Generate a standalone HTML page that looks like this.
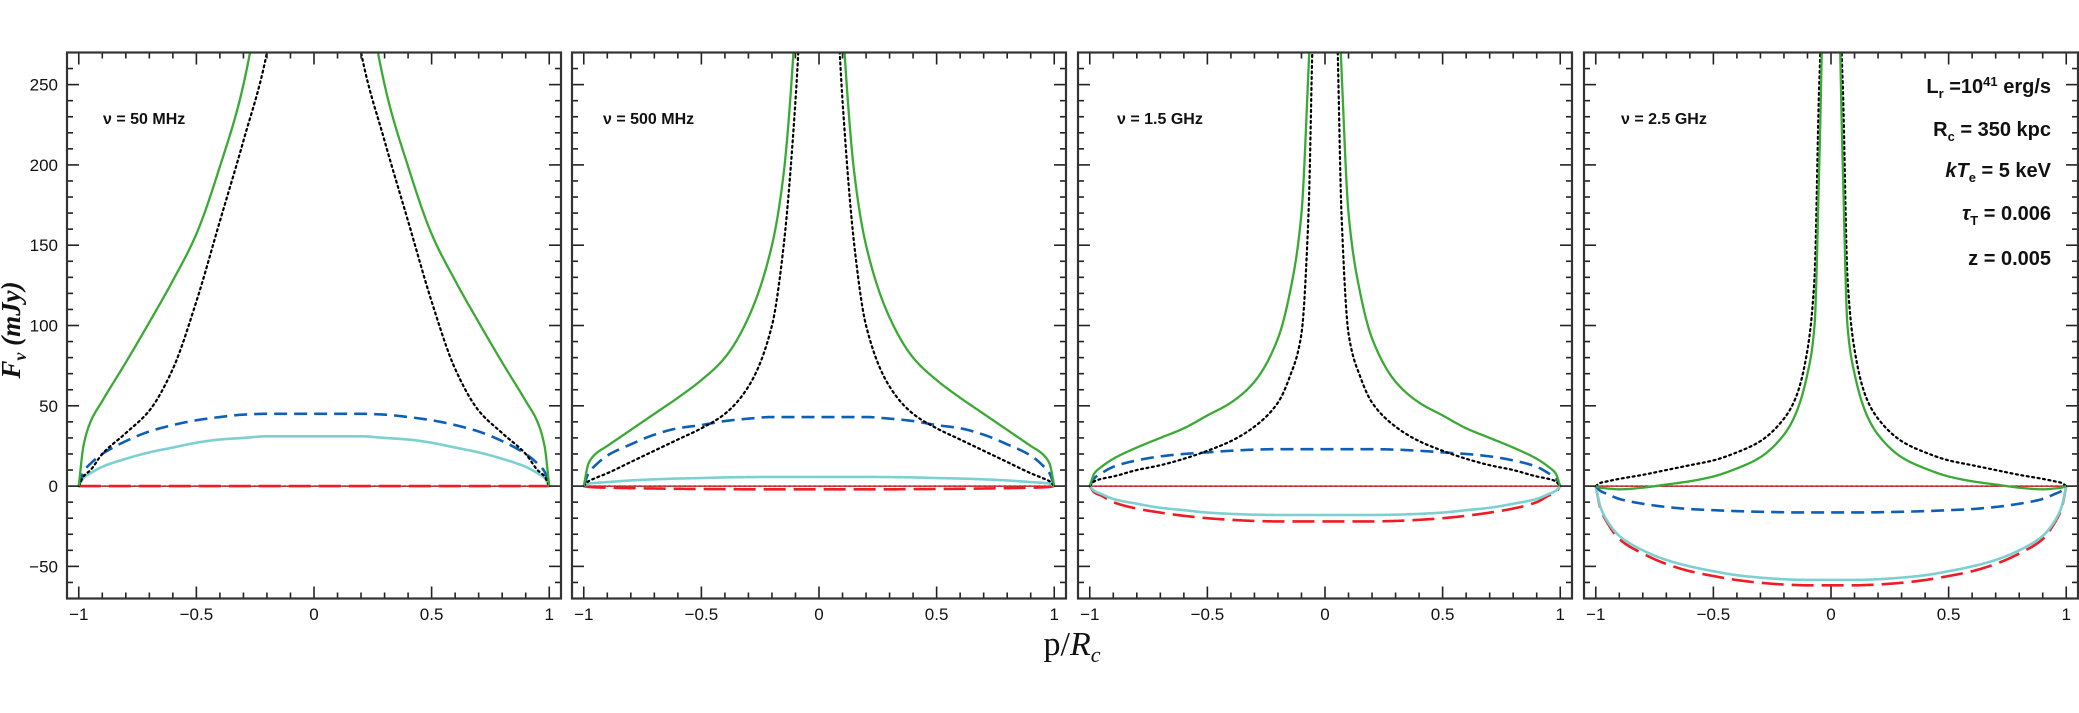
<!DOCTYPE html>
<html><head><meta charset="utf-8"><style>
html,body{margin:0;padding:0;background:#fff;}
svg{display:block;}
text{font-family:"Liberation Sans",sans-serif;fill:#111;}
</style></head><body>
<svg id="chart" width="2079" height="713" viewBox="0 0 2079 713" xmlns="http://www.w3.org/2000/svg">
<text x="20" y="330" transform="rotate(-90 20 330)" text-anchor="middle" font-size="27" font-weight="bold" font-style="italic" style="font-family:'Liberation Serif',serif">F<tspan font-size="18" dy="6">ν</tspan><tspan dy="-6"> (mJy)</tspan></text>
<text x="1072" y="655" text-anchor="middle" font-size="34" style="font-family:'Liberation Serif',serif">p/<tspan font-style="italic">R</tspan><tspan font-style="italic" font-size="22" dy="7">c</tspan></text>
<g id="panels"></g>
<g font-size="20" font-weight="bold" text-anchor="end">
<text x="2051" y="93">L<tspan font-size="13" dy="5">r</tspan><tspan dy="-5"> =10</tspan><tspan font-size="13" dy="-7">41</tspan><tspan dy="7"> erg/s</tspan></text>
<text x="2051" y="136">R<tspan font-size="13" dy="5">c</tspan><tspan dy="-5"> = 350  kpc</tspan></text>
<text x="2051" y="177"><tspan font-style="italic">kT</tspan><tspan font-size="13" dy="5">e</tspan><tspan dy="-5"> = 5 keV</tspan></text>
<text x="2051" y="220"><tspan font-style="italic">τ</tspan><tspan font-size="13" dy="5">T</tspan><tspan dy="-5"> = 0.006</tspan></text>
<text x="2051" y="265">z = 0.005</text>
</g>
</svg>
<script>
const xGrid = [-1,-0.98,-0.95,-0.9,-0.8,-0.7,-0.6,-0.5,-0.4,-0.3,-0.2,-0.15,-0.1,-0.07,-0.05,0,0.05,0.07,0.1,0.15,0.2,0.3,0.4,0.5,0.6,0.7,0.8,0.9,0.95,0.98,1];
const panelLabels = ["ν = 50  MHz","ν = 500  MHz","ν = 1.5  GHz","ν = 2.5  GHz"];
const xTicks = [-1,-0.5,0,0.5,1];
const xTickLabels = ["−1","−0.5","0","0.5","1"];
const yTicks = [-50,0,50,100,150,200,250];
const yTickLabels = ["−50","0","50","100","150","200","250"];

const green50  = [0,25,40,53,77,102,128,157,199,250,340,420,500,560,590,600,590,560,500,420,340,250,199,157,128,102,77,53,40,25,0];
const black50  = [0,6,10,20,33,47,73,115,165,215,270,320,400,450,480,500,480,450,400,320,270,215,165,115,73,47,33,20,10,6,0];
const blue50   = [0,9,14,20,28,34,38,41,43,44.5,45,45,45,45,45,45,45,45,45,45,45,44.5,43,41,38,34,28,20,14,9,0];
const cyan50   = [0,5,8,12,17,21,24,27,29,30,31,31,31,31,31,31,31,31,31,31,31,30,29,27,24,21,17,12,8,5,0];
const redDash50= [0,0,0,0,0,0,0,0,0,0,0,0,0,0,0,0,0,0,0,0,0,0,0,0,0,0,0,0,0,0,0];
const redDot50 = [0,0,0,0,0,0,0,0,0,0,0,0,0,0,0,0,0,0,0,0,0,0,0,0,0,0,0,0,0,0,0];

const green500 = [0,14,20,25,35,45,55,66,80,105,150,195,290,380,450,500,450,380,290,195,150,105,80,66,55,45,35,25,20,14,0];
const black500 = [0,3,5,8,15,22,29,36,45,62,100,150,240,320,370,400,370,320,240,150,100,62,45,36,29,22,15,8,5,3,0];
const blue500  = [0,8,13,19,26,32,36,38,40.5,42,43,43,43,43,43,43,43,43,43,43,43,42,40.5,38,36,32,26,19,13,8,0];
const cyan500  = [0,1.5,2,2.5,3.5,4.2,4.7,5,5.4,5.6,5.7,5.7,5.7,5.7,5.7,5.7,5.7,5.7,5.7,5.7,5.7,5.6,5.4,5,4.7,4.2,3.5,2.5,2,1.5,0];
const redDash500=[0,-0.5,-0.8,-1,-1.3,-1.5,-1.7,-1.8,-1.9,-2,-2,-2,-2,-2,-2,-2,-2,-2,-2,-2,-2,-2,-1.9,-1.8,-1.7,-1.5,-1.3,-1,-0.8,-0.5,0];
const redDot500= [0,0,0,0,0,0,0,0,0,0,0,0,0,0,0,0,0,0,0,0,0,0,0,0,0,0,0,0,0,0,0];

const green15  = [0,8,12,17,24,30,36,44,52,65,92,120,170,260,330,500,330,260,170,120,92,65,52,44,36,30,24,17,12,8,0];
const black15  = [0,3,4.5,6,10,13,17,22,28,37,52,68,95,170,290,400,290,170,95,68,52,37,28,22,17,13,10,6,4.5,3,0];
const blue15   = [0,5,8,12,16,18.5,20,21,22,22.7,23,23,23,23,23,23,23,23,23,23,23,22.7,22,21,20,18.5,16,12,8,5,0];
const cyan15   = [0,-3,-5,-8,-11,-13.5,-15,-16.5,-17.3,-17.8,-18,-18,-18,-18,-18,-18,-18,-18,-18,-18,-18,-17.8,-17.3,-16.5,-15,-13.5,-11,-8,-5,-3,0];
const redDash15= [0,-4,-6,-10,-14,-16.5,-18.5,-20,-21,-21.7,-22,-22,-22,-22,-22,-22,-22,-22,-22,-22,-22,-21.7,-21,-20,-18.5,-16.5,-14,-10,-6,-4,0];
const redDot15 = [0,0,0,0,0,0,0,0,0,0,0,0,0,0,0,0,0,0,0,0,0,0,0,0,0,0,0,0,0,0,0];

const green25  = [0,-1,-1.5,-2,-1,1,3,6,11,18,32,45,70,100,200,500,200,100,70,45,32,18,11,6,3,1,-1,-2,-1.5,-1,0];
const black25  = [0,2,3,4.5,7,10,13,16,21,28,42,55,85,130,250,400,250,130,85,55,42,28,21,16,13,10,7,4.5,3,2,0];
const blue25   = [0,-3,-5,-8,-11,-13,-14.3,-15,-15.6,-16,-16.3,-16.4,-16.4,-16.4,-16.4,-16.4,-16.4,-16.4,-16.4,-16.4,-16.3,-16,-15.6,-15,-14.3,-13,-11,-8,-5,-3,0];
const cyan25   = [0,-13,-22,-31,-40,-46,-50,-53,-55.5,-57,-58,-58.3,-58.4,-58.4,-58.4,-58.4,-58.4,-58.4,-58.4,-58.3,-58,-57,-55.5,-53,-50,-46,-40,-31,-22,-13,0];
const redDash25= [0,-14,-23,-33,-42,-48.5,-53,-56,-58.5,-60.2,-61.3,-61.6,-61.8,-61.8,-61.8,-61.8,-61.8,-61.8,-61.8,-61.6,-61.3,-60.2,-58.5,-56,-53,-48.5,-42,-33,-23,-14,0];
const redDot25 = [0,0,0,0,0,0,0,0,0,0,0,0,0,0,0,0,0,0,0,0,0,0,0,0,0,0,0,0,0,0,0];

const panelSeries = [
  [green50,black50,blue50,cyan50,redDash50,redDot50],
  [green500,black500,blue500,cyan500,redDash500,redDot500],
  [green15,black15,blue15,cyan15,redDash15,redDot15],
  [green25,black25,blue25,cyan25,redDash25,redDot25]
];
const seriesNames = ["total-flux","synchrotron","sz-combined","sz-thermal","sz-nonthermal","zero-reference"];

const NS="http://www.w3.org/2000/svg";
const panelLefts=[67,572,1078,1584], PW=494, TOP=52.5, BOT=598.5;
const XMIN=-1.05, XMAX=1.05, YMIN=-70, YMAX=270;
const styles=[
  {stroke:"#3aaa35",w:2.3,dash:""},
  {stroke:"#000",w:2.2,dash:"2 3.5"},
  {stroke:"#0d5fb8",w:2.6,dash:"13 7"},
  {stroke:"#7dd0d0",w:2.6,dash:""},
  {stroke:"#ee1c24",w:2.6,dash:"22 8"},
  {stroke:"#ee1c24",w:1.8,dash:"2 3"}
];
function mk(tag,attrs,parent){const e=document.createElementNS(NS,tag);for(const k in attrs)e.setAttribute(k,attrs[k]);parent.appendChild(e);return e;}
// monotone cubic (Fritsch-Carlson) interpolation, sampled densely
function monoPath(xsArr,ysArr,xs,ys){
  const n=xsArr.length,h=[],dl=[],m=new Array(n);
  for(let i=0;i<n-1;i++){h[i]=xsArr[i+1]-xsArr[i];dl[i]=(ysArr[i+1]-ysArr[i])/h[i];}
  m[0]=dl[0];m[n-1]=dl[n-2];
  for(let i=1;i<n-1;i++){
    if(dl[i-1]*dl[i]<=0)m[i]=0;
    else{const w1=2*h[i]+h[i-1],w2=h[i]+2*h[i-1];m[i]=(w1+w2)/(w1/dl[i-1]+w2/dl[i]);}
  }
  let d="";
  for(let i=0;i<n-1;i++){
    const steps=24;
    for(let s=(i===0?0:1);s<=steps;s++){
      const t=s/steps,t2=t*t,t3=t2*t;
      const y=(2*t3-3*t2+1)*ysArr[i]+(t3-2*t2+t)*h[i]*m[i]+(-2*t3+3*t2)*ysArr[i+1]+(t3-t2)*h[i]*m[i+1];
      const x=xsArr[i]+t*h[i];
      const Y=Math.max(-200,Math.min(y,900));
      d+=(d?" L":"M")+xs(x).toFixed(2)+","+ys(Y).toFixed(2);
    }
  }
  return d;
}
const root=document.getElementById("panels");
const defs=mk("defs",{},root);
panelLefts.forEach((L,pi)=>{
  const xs=v=>L+(v-XMIN)/(XMAX-XMIN)*PW;
  const ys=v=>BOT-(v-YMIN)/(YMAX-YMIN)*(BOT-TOP);
  const g=mk("g",{},root);
  
  
  const cp=mk("clipPath",{id:"clip"+pi},defs);
  mk("rect",{x:L,y:TOP,width:PW,height:BOT-TOP},cp);
  const zl=mk("line",{x1:L,x2:L+PW,y1:ys(0),y2:ys(0),stroke:"#000","stroke-width":1},g);
  
  
  const sg=mk("g",{"clip-path":"url(#clip"+pi+")"},g);
  const order=[5,4,3,2,1,0];
  order.forEach(si=>{
    const arr=panelSeries[pi][si];
    const st=styles[si];
    const p=mk("path",{d:monoPath(xGrid,arr,xs,ys),fill:"none",stroke:st.stroke,"stroke-width":st.w,"stroke-linecap":si==1||si==5?"round":"butt","stroke-linejoin":"round"},sg);
    if(st.dash)p.setAttribute("stroke-dasharray",st.dash);
    
    
  });
  const tg=mk("g",{stroke:"#222","stroke-width":1.6},g);
  
  
  for(let k=-10;k<=10;k++){
    const x=xs(k/10), major=(k%5===0), len=major?12:6;
    mk("line",{x1:x,x2:x,y1:BOT,y2:BOT-len},tg);
    mk("line",{x1:x,x2:x,y1:TOP,y2:TOP+len},tg);
  }
  for(let v=-60;v<=270;v+=10){
    const y=ys(v), major=(v%50===0), len=major?12:6;
    mk("line",{x1:L,x2:L+len,y1:y,y2:y},tg);
    mk("line",{x1:L+PW,x2:L+PW-len,y1:y,y2:y},tg);
  }
  const fr=mk("rect",{x:L,y:TOP,width:PW,height:BOT-TOP,fill:"none",stroke:"#333","stroke-width":2.2},g);
  
  
  xTicks.forEach((t,i)=>{
    const tx=mk("text",{x:xs(t),y:620,"text-anchor":"middle","font-size":17},g);
    tx.textContent=xTickLabels[i];
    
    
  });
  if(pi===0){
    yTicks.forEach((t,i)=>{
      const ty=mk("text",{x:58,y:ys(t)+6,"text-anchor":"end","font-size":17},g);
      ty.textContent=yTickLabels[i];
      
      
    });
  }
  const lbx=[103,603,1117,1621][pi];
  const lb=mk("text",{x:lbx,y:124,"font-size":16,"font-weight":"bold"},g);
  lb.textContent=panelLabels[pi];
  
  
});
</script>
</body></html>
